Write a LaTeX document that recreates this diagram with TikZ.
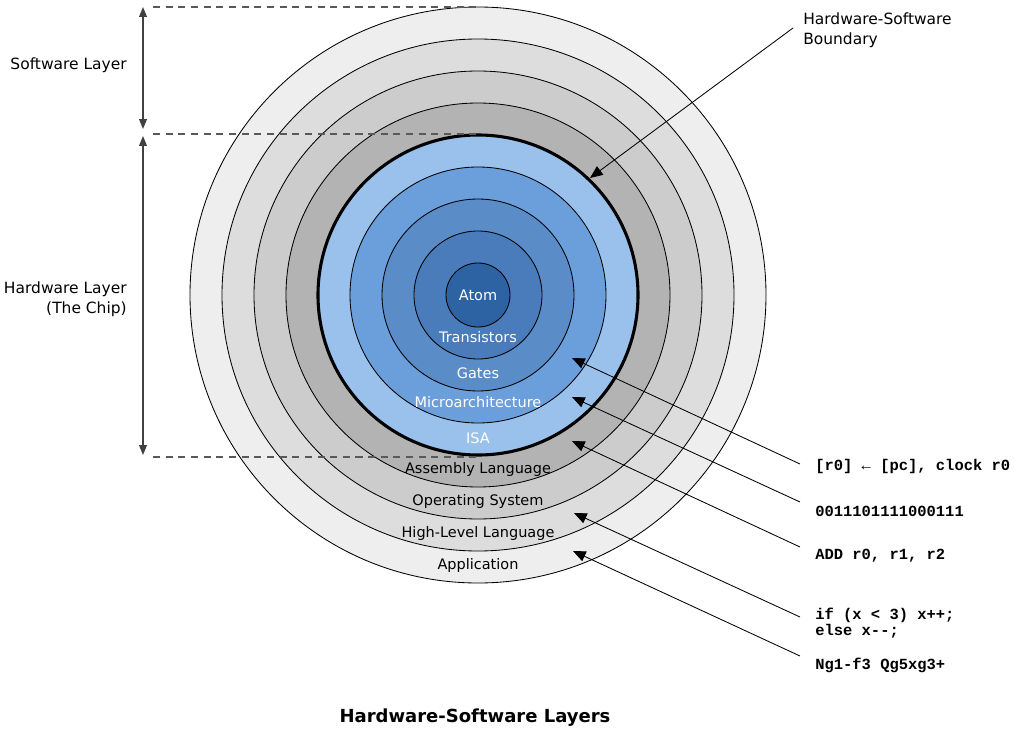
\documentclass[tikz,border=0pt]{standalone}
\usepackage{fontspec}
\setmainfont{DejaVu Sans}
\setmonofont{Liberation Mono}
\usetikzlibrary{arrows.meta}

\definecolor{appgray}{HTML}{EEEEEE}
\definecolor{hllgray}{HTML}{DDDDDD}
\definecolor{osgray}{HTML}{CCCCCC}
\definecolor{asmgray}{HTML}{B3B3B3}
\definecolor{isablue}{HTML}{99C1EC}
\definecolor{uarchblue}{HTML}{6A9FDC}
\definecolor{gateblue}{HTML}{5A8CC8}
\definecolor{transblue}{HTML}{4A7BBA}
\definecolor{atomblue}{HTML}{2E63A3}

\begin{document}
\begin{tikzpicture}[x=0.025cm,y=-0.025cm]
    \tikzstyle{ring}=[draw=black,line width=0.6pt]
    \tikzstyle{lbl}=[font=\fontsize{10.3}{12}\selectfont,inner sep=0pt,text height=7.5pt,text depth=2pt]
    \tikzstyle{inner}=[lbl,text=white]
    \tikzstyle{outer}=[lbl,text=black]
    \tikzstyle{side}=[font=\fontsize{11}{14}\selectfont,inner sep=0pt]
    \tikzstyle{code}=[font=\ttfamily\bfseries\fontsize{11}{11.4}\selectfont,anchor=west,align=left,inner sep=0pt]
    \tikzstyle{ptr}=[-{Triangle[length=9pt,width=7.5pt]},line width=0.6pt,draw=black]
    \tikzstyle{span}=[{Triangle[length=7pt,width=5.5pt]}-{Triangle[length=7pt,width=5.5pt]},line width=0.8pt,draw=black!75]
    \tikzstyle{guide}=[dash pattern=on 5pt off 4pt,line width=0.8pt,draw=black!65]

    \useasboundingbox (0,0) rectangle (1015,729);
    \coordinate (c) at (478,295);

    % layers, outside in
    \draw[ring,fill=appgray] (c) circle[radius=288];
    \draw[ring,fill=hllgray] (c) circle[radius=256];
    \draw[ring,fill=osgray] (c) circle[radius=224];
    \draw[ring,fill=asmgray] (c) circle[radius=192];
    \draw[ring,fill=isablue,line width=2.2pt] (c) circle[radius=160];
    \draw[ring,fill=uarchblue] (c) circle[radius=128];
    \draw[ring,fill=gateblue] (c) circle[radius=96];
    \draw[ring,fill=transblue] (c) circle[radius=64];
    \draw[ring,fill=atomblue] (c) circle[radius=32];

    \node[inner] (atom) at (478,297) {Atom};
    \node[inner] (trans) at (478,339) {Transistors};
    \node[inner] (gates) at (478,375) {Gates};
    \node[inner] (uarch) at (478,404) {Microarchitecture};
    \node[inner] (isa) at (478,440) {ISA};
    \node[outer] (asm) at (478,470) {Assembly Language};
    \node[outer] (os) at (478,502) {Operating System};
    \node[outer] (hll) at (478,534) {High-Level Language};
    \node[outer] (app) at (478,566) {Application};

    % left: layer spans
    \coordinate (swtop) at (153,7);
    \coordinate (swend) at (478,7);
    \coordinate (hwtop) at (153,134);
    \coordinate (hwtopend) at (478,134);
    \coordinate (hwbot) at (153,457);
    \coordinate (hwbotend) at (478,457);
    \draw[guide] (swtop)--(swend);
    \draw[guide] (hwtop)--(hwtopend);
    \draw[guide] (hwbot)--(hwbotend);

    \coordinate (sw1) at (143,7);
    \coordinate (sw2) at (143,129);
    \coordinate (hw1) at (143,136);
    \coordinate (hw2) at (143,455);
    \draw[span] (sw1)--(sw2);
    \draw[span] (hw1)--(hw2);

    \node[side,anchor=east] (swlayer) at (127,65) {Software Layer};
    \node[side,anchor=east,align=right] (hwlayer) at (127,299) {Hardware Layer\\(The Chip)};

    % boundary
    \node[side,anchor=west,align=left] (bound) at (803,30) {Hardware-Software\\Boundary};
    \coordinate (boundfrom) at (793,28);
    \coordinate (boundtip) at (590,178);
    \draw[ptr] (boundfrom)--(boundtip);

    % examples per layer
    \node[code] (rtl) at (815,466) {[r0] ← [pc], clock r0};
    \node[code] (mach) at (815,511) {0011101111000111};
    \node[code] (asmcode) at (815,556) {ADD r0, r1, r2};
    \node[code] (hllcode) at (815,623) {if (x < 3) x++;\\else x--;};
    \node[code] (chess) at (815,665) {Ng1-f3 Qg5xg3+};

    \coordinate (rtlfrom) at (800,464);
    \coordinate (machfrom) at (800,502);
    \coordinate (asmfrom) at (800,547);
    \coordinate (hllfrom) at (800,617);
    \coordinate (chessfrom) at (800,656);
    \coordinate (rtltip) at (572,358);
    \coordinate (machtip) at (572,397);
    \coordinate (asmtip) at (572,441);
    \coordinate (hlltip) at (574,513);
    \coordinate (chesstip) at (573,551);
    \draw[ptr] (rtlfrom)--(rtltip);
    \draw[ptr] (machfrom)--(machtip);
    \draw[ptr] (asmfrom)--(asmtip);
    \draw[ptr] (hllfrom)--(hlltip);
    \draw[ptr] (chessfrom)--(chesstip);

    \node[font=\bfseries\fontsize{12.8}{15}\selectfont] (title) at (475,718) {Hardware-Software Layers};
\end{tikzpicture}
\end{document}
